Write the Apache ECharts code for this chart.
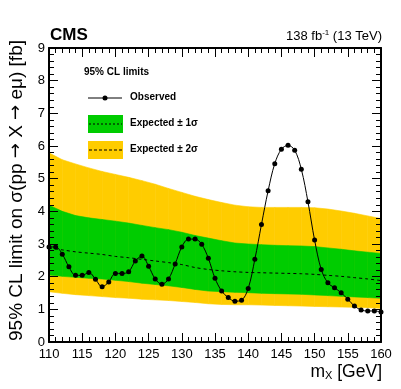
<!DOCTYPE html>
<html>
<head>
<meta charset="utf-8">
<script src="https://cdn.jsdelivr.net/npm/echarts@6/dist/echarts.min.js"></script>
<style>
  html, body { margin: 0; padding: 0; background: #fff; }
  #chart { width: 401px; height: 389px; }
</style>
</head>
<body>
<div id="chart"></div>
<script>
// ── Data ──────────────────────────────────────────────────────────────────────
const obsMass = [110,111,112,113,114,115,116,117,118,119,120,121,122,123,124,125,126,127,128,129,
  130,131,132,133,134,135,136,137,138,139,140,141,142,143,144,145,146,147,148,149,
  150,151,152,153,154,155,156,157,158,159,160];
const observed = [2.91,2.91,2.69,2.30,2.04,2.04,2.13,1.92,1.69,1.84,2.10,2.10,2.15,2.48,2.63,2.32,1.93,1.77,1.93,2.39,
  2.91,3.15,3.15,2.99,2.56,1.95,1.56,1.36,1.25,1.28,1.64,2.53,3.60,4.63,5.46,5.90,6.02,5.87,5.29,4.29,
  3.12,2.22,1.81,1.66,1.51,1.31,1.10,0.98,0.95,0.95,0.92];

const expMass  = [110,112,114,116,118,120,122,124,126,128,130,132,134,136,138,140,142,144,146,148,150,152,154,156,158,160];
const expMedian = [2.88,2.82,2.76,2.72,2.68,2.62,2.58,2.53,2.48,2.43,2.37,2.28,2.22,2.18,2.15,2.13,2.12,2.11,2.10,2.09,2.07,2.04,2.01,1.97,1.93,1.88];
const exp1Up   = [4.19,4.00,3.87,3.80,3.75,3.70,3.64,3.57,3.50,3.44,3.36,3.26,3.18,3.10,3.03,3.00,2.98,2.96,2.95,2.94,2.92,2.88,2.84,2.79,2.75,2.71];
const exp1Down = [2.05,2.01,1.98,1.95,1.93,1.89,1.85,1.80,1.76,1.72,1.67,1.61,1.56,1.54,1.52,1.51,1.49,1.48,1.47,1.46,1.44,1.42,1.40,1.38,1.36,1.34];
const exp2Up   = [5.79,5.58,5.45,5.33,5.22,5.13,5.04,4.94,4.83,4.70,4.58,4.46,4.36,4.27,4.19,4.14,4.12,4.12,4.12,4.12,4.11,4.07,4.01,3.94,3.86,3.78];
const exp2Down = [1.54,1.49,1.45,1.42,1.39,1.36,1.34,1.31,1.29,1.27,1.24,1.21,1.17,1.15,1.14,1.14,1.13,1.12,1.11,1.10,1.09,1.08,1.07,1.06,1.05,1.03];

const xTicks = { min: 110, max: 160, interval: 5 };
const yTicks = { min: 0, max: 9, interval: 1 };

// ── Helpers ───────────────────────────────────────────────────────────────────
const FONT = '"Liberation Sans", Arial, sans-serif';
const GREEN = '#00cc00';
const YELLOW = '#ffcc00';

const pairs = (xs, ys) => xs.map((x, i) => [x, ys[i]]);

// One band = custom series, one quad per segment between neighbouring masses.
function bandSeries(up, down, color) {
  const rows = expMass.slice(0, -1).map((m, i) =>
    [m, up[i], down[i], expMass[i + 1], up[i + 1], down[i + 1]]);
  return {
    type: 'custom', data: rows, silent: true, z: 1, clip: true,
    encode: { x: [0, 3], y: [1, 2, 4, 5] },
    renderItem: (params, api) => {
      const p = [
        api.coord([api.value(0), api.value(1)]),
        api.coord([api.value(3), api.value(4)]),
        api.coord([api.value(3), api.value(5)]),
        api.coord([api.value(0), api.value(2)]),
      ];
      return { type: 'polygon', shape: { points: p },
        style: { fill: color, stroke: color, lineWidth: 0.6 } };
    },
  };
}

const axisCommon = {
  axisLine: { show: true, onZero: false, lineStyle: { color: '#000', width: 2 } },
  axisTick: { show: true, inside: true, length: 9, lineStyle: { color: '#000', width: 1 } },
  minorTick: { show: true, splitNumber: 5, length: 5, lineStyle: { color: '#000', width: 1 } },
  splitLine: { show: false },
  z: 5,
};

const chart = echarts.init(document.getElementById('chart'), null, { renderer: 'canvas' });

chart.setOption({
  animation: false,
  backgroundColor: '#fff',
  textStyle: { fontFamily: FONT },
  grid: { left: 49, right: 20, top: 48, bottom: 47 },
  xAxis: [
    { type: 'value', position: 'bottom', ...xTicks, ...axisCommon,
      axisLabel: { color: '#000', fontSize: 13, margin: 6, fontFamily: FONT } },
    { type: 'value', position: 'top', ...xTicks, ...axisCommon, axisLabel: { show: false } },
  ],
  yAxis: [
    { type: 'value', position: 'left', ...yTicks, ...axisCommon,
      axisLabel: { color: '#000', fontSize: 13, margin: 4, fontFamily: FONT } },
    { type: 'value', position: 'right', ...yTicks, ...axisCommon, axisLabel: { show: false } },
  ],
  series: [
    bandSeries(exp2Up, exp2Down, YELLOW),
    bandSeries(exp1Up, exp1Down, GREEN),
    {
      type: 'line', data: pairs(expMass, expMedian), symbol: 'none', smooth: 0.3, z: 3,
      lineStyle: { color: '#000', width: 1, type: [3, 3] },
    },
    {
      type: 'line', data: pairs(obsMass, observed), smooth: 0.35, z: 4,
      symbol: 'circle', symbolSize: 5,
      itemStyle: { color: '#000' },
      lineStyle: { color: '#000', width: 1 },
    },
  ],
  graphic: [
    { type: 'text', left: 50, top: 27,
      style: { text: 'CMS', font: `bold 17px ${FONT}`, fill: '#000' } },
    { type: 'text', right: 19, top: 29,
      style: { text: '138 fb{sup|-1} (13 TeV)', font: `13px ${FONT}`, fill: '#000',
        rich: { sup: { fontSize: 8, verticalAlign: 'top', padding: [0, 0, 6, 0], fontFamily: FONT } } } },
    { type: 'text', x: 7, y: 341, rotation: Math.PI / 2,
      style: { text: '95% CL limit on σ(pp {a|→} X {a|→} eμ) [fb]', font: `19px ${FONT}`, fill: '#000',
        align: 'left', verticalAlign: 'top',
        rich: { a: { fontFamily: '"DejaVu Sans", sans-serif', fontSize: 18 } } } },
    { type: 'text', right: 19, top: 363,
      style: { text: 'm{sub|X} [GeV]', font: `17.5px ${FONT}`, fill: '#000',
        rich: { sub: { fontSize: 11, padding: [8, 0, 0, 0], fontFamily: FONT } } } },
    // legend
    { type: 'text', left: 84, top: 67,
      style: { text: '95% CL limits', font: `bold 10px ${FONT}`, fill: '#000' } },
    { type: 'line', shape: { x1: 88, y1: 98, x2: 122, y2: 98 },
      style: { stroke: '#000', lineWidth: 1 } },
    { type: 'circle', shape: { cx: 105, cy: 98, r: 2.5 }, style: { fill: '#000' } },
    { type: 'text', left: 130, top: 92,
      style: { text: 'Observed', font: `bold 10px ${FONT}`, fill: '#000' } },
    { type: 'rect', shape: { x: 88, y: 115, width: 35, height: 18 }, style: { fill: GREEN } },
    { type: 'line', shape: { x1: 89, y1: 124, x2: 122, y2: 124 },
      style: { stroke: '#000', lineWidth: 1, lineDash: [2, 2] } },
    { type: 'text', left: 130, top: 118,
      style: { text: 'Expected ± 1σ', font: `bold 10px ${FONT}`, fill: '#000' } },
    { type: 'rect', shape: { x: 88, y: 141, width: 35, height: 18 }, style: { fill: YELLOW } },
    { type: 'line', shape: { x1: 89, y1: 150, x2: 122, y2: 150 },
      style: { stroke: '#000', lineWidth: 1, lineDash: [3, 2] } },
    { type: 'text', left: 130, top: 144,
      style: { text: 'Expected ± 2σ', font: `bold 10px ${FONT}`, fill: '#000' } },
  ],
});
</script>
</body>
</html>
